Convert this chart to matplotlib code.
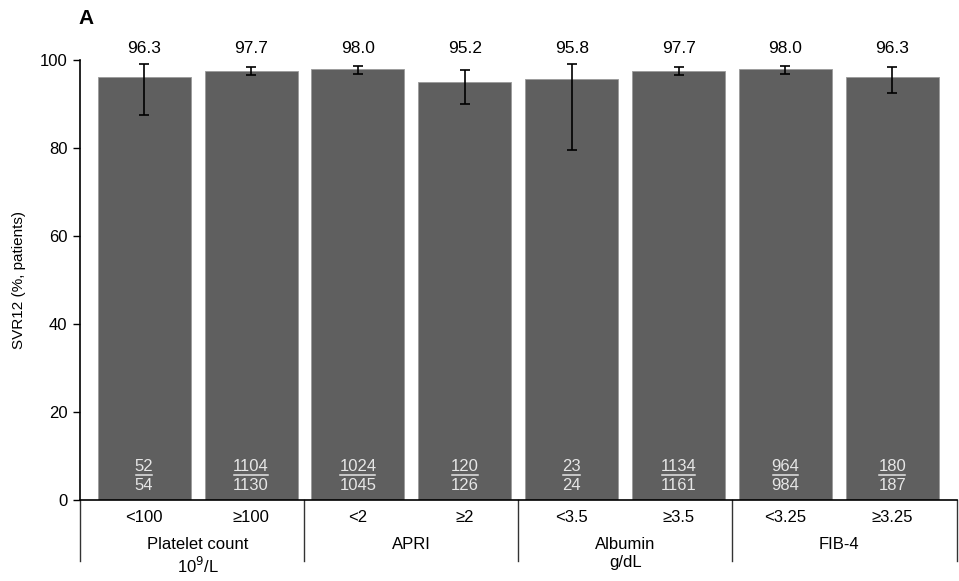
import matplotlib
matplotlib.use("Agg")
import matplotlib.pyplot as plt
from matplotlib.lines import Line2D
import numpy as np

plt.rcParams['font.family'] = ['Liberation Sans', 'DejaVu Sans']

categories = ["<100", "\u2265100", "<2", "\u22652", "<3.5", "\u22653.5", "<3.25", "\u22653.25"]
groups = ["Platelet count\n10$^{9}$/L", "APRI", "Albumin\ng/dL", "FIB-4"]
svr = [96.3, 97.7, 98.0, 95.2, 95.8, 97.7, 98.0, 96.3]
ci_low = [87.5, 96.6, 97.0, 90.0, 79.7, 96.6, 97.0, 92.6]
ci_high = [99.1, 98.5, 98.8, 97.8, 99.3, 98.5, 98.7, 98.4]
responders = [52, 1104, 1024, 120, 23, 1134, 964, 180]
totals = [54, 1130, 1045, 126, 24, 1161, 984, 187]

fig = plt.figure(figsize=(9.59, 5.81), dpi=100)
ax = fig.add_axes([0.0834, 0.139, 0.914, 0.757])

x = np.arange(len(categories))
err = [np.array(svr) - np.array(ci_low), np.array(ci_high) - np.array(svr)]
ax.bar(x, svr, width=0.87, color="#5f5f5f", edgecolor="#9a9a9a", linewidth=0.6, zorder=2)
ax.errorbar(x, svr, yerr=err, fmt="none", ecolor="black", elinewidth=1.2,
            capsize=3.5, capthick=1.2, zorder=3)

ax.set_xlim(-0.6, 7.6)
ax.set_ylim(0, 100)
ax.set_yticks(range(0, 101, 20))
ax.tick_params(axis="y", labelsize=12, length=5, width=1, direction="out", pad=4)
ax.set_xticks([])
ax.spines["top"].set_visible(False)
ax.spines["right"].set_visible(False)
ax.spines["bottom"].set_linewidth(1.2)
ax.spines["left"].set_linewidth(1.2)
ax.set_ylabel("SVR12 (%, patients)", fontsize=11, labelpad=10)

# value labels above bars
for xi, v in zip(x, svr):
    ax.text(xi, 101.0, f"{v:.1f}", ha="center", va="bottom", fontsize=12.5, clip_on=False)

# n/N fractions inside bars
num_texts = []
for xi, r, t in zip(x, responders, totals):
    nt = ax.text(xi, 7.6, str(r), ha="center", va="center", fontsize=12, color="#e6e6e6", zorder=4)
    ax.text(xi, 3.3, str(t), ha="center", va="center", fontsize=12, color="#e6e6e6", zorder=4)
    num_texts.append(nt)

fig.canvas.draw()
renderer = fig.canvas.get_renderer()
inv = fig.transFigure.inverted()
for nt in num_texts:
    bb = nt.get_window_extent(renderer)
    (x0, y0), (x1, _) = inv.transform([(bb.x0 + 1, bb.y0), (bb.x1 - 1, bb.y0)])
    fig.add_artist(Line2D([x0, x1], [y0 - 0.002, y0 - 0.002], color="#e6e6e6", lw=1.1,
                          transform=fig.transFigure, zorder=5))

# category and group labels below the axis
trans = ax.get_xaxis_transform()
for xi, c in zip(x, categories):
    ax.text(xi, -0.04, c, ha="center", va="center", fontsize=12, transform=trans, clip_on=False)
for gi, g in enumerate(groups):
    ax.text(2 * gi + 0.5, -0.083, g, ha="center", va="top", fontsize=12,
            linespacing=1.25, transform=trans, clip_on=False)
for sx in [-0.6, 1.5, 3.5, 5.5, 7.6]:
    ax.add_line(Line2D([sx, sx], [0, -0.138], color="#333333", lw=1.0,
                       transform=trans, clip_on=False))

fig.text(0.082, 0.968, "A", fontsize=15, weight="bold", va="center")

fig.savefig("out.png", dpi=100)
